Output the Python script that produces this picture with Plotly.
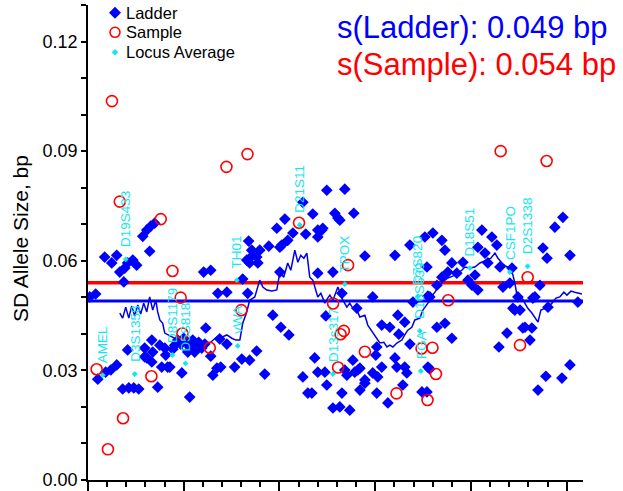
import plotly.graph_objects as go

# ---------------- data ----------------
ladder_x = [0.9, 4.0, 5.1, 9.2, 11.9, 15.0, 8.7, 12.4, 15.0, 16.6, 19.2, 20.7, 23.4, 25.4, 18.7,
            18.1, 21.3, 23.9, 26.5, 20.7, 28.6, 30.7, 32.8, 34.8, 32.2, 30.7, 33.3, 33.8, 37.5,
            36.4, 38.5, 41.6, 40.6, 44.3, 29.6, 40.1, 42.7, 45.3, 46.9, 48.4, 50.0, 51.6, 53.1,
            54.7, 56.3, 57.8, 59.4, 61.0, 55.7, 52.1, 49.0, 53.1, 61.5, 60.4, 64.1, 64.1, 65.2,
            67.3, 69.3, 68.8, 72.5, 67.8, 72.5, 76.6, 80.3, 84.4, 88.1, 92.3, 80.8, 83.4, 83.9,
            85.5, 84.4, 88.1, 82.9, 86.0, 88.7, 94.4, 101.2, 100.2, 96.5, 100.7, 104.9, 98.6,
            102.8, 104.3, 107.0, 89.7, 100.2, 112.2, 114.8, 116.9, 118.4, 120.0, 112.2, 113.7,
            117.4, 120.0, 122.1, 124.7, 134.1, 128.9, 130.5, 122.6, 120.0, 120.0, 127.9, 132.6,
            124.2, 123.7, 124.7, 127.9, 136.7, 132.6, 135.2, 139.3, 140.9, 142.0, 144.6, 138.8,
            131.5, 144.6, 160.3, 148.7, 151.3, 150.8, 156.6, 161.3, 166.5, 164.4, 174.4, 148.7,
            140.4, 153.4, 157.6, 161.8, 165.4, 162.3, 168.1, 150.8, 160.3, 138.3, 134.1, 142.0,
            153.4, 144.6, 165.4, 150.3, 168.1, 175.9, 177.0, 169.7, 177.5, 177.5, 131.5, 180.1,
            184.8, 186.4, 182.2, 190.0, 192.6, 195.8, 200.5, 203.6, 187.9, 202.1, 198.4, 184.8,
            178.5, 182.2, 186.4, 190.0, 178.5, 177.0, 205.7, 210.9, 213.5, 203.6, 207.3, 208.8,
            215.1, 216.7, 220.3, 224.5, 221.9, 225.6, 232.3, 236.0, 240.2, 251.7, 239.7, 237.6,
            243.8, 248.0, 255.8, 227.1, 230.8, 231.8, 218.8, 214.6, 251.7, 247.5, 239.1, 235.0,
            221.4, 233.4, 222.9, 228.2, 33.3, 29.6]
ladder_y = [0.0501, 0.0509, 0.0276, 0.0295, 0.0301, 0.0315, 0.0610, 0.0594, 0.0615, 0.0569, 0.0580,
            0.0594, 0.0602, 0.0588, 0.0542, 0.0249, 0.0252, 0.0252, 0.0249, 0.0356, 0.0667, 0.0684,
            0.0695, 0.0703, 0.0626, 0.0334, 0.0323, 0.0350, 0.0369, 0.0254, 0.0309, 0.0309, 0.0342,
            0.0358, 0.0361, 0.0361, 0.0309, 0.0369, 0.0383, 0.0372, 0.0388, 0.0377, 0.0364, 0.0383,
            0.0369, 0.0377, 0.0361, 0.0372, 0.0350, 0.0350, 0.0293, 0.0227, 0.0416, 0.0569, 0.0574,
            0.0339, 0.0287, 0.0306, 0.0309, 0.0386, 0.0372, 0.0511, 0.0514, 0.0309, 0.0331, 0.0328,
            0.0353, 0.0290, 0.0550, 0.0511, 0.0654, 0.0629, 0.0594, 0.0610, 0.0602, 0.0615, 0.0594,
            0.0640, 0.0643, 0.0569, 0.0451, 0.0418, 0.0397, 0.0689, 0.0714, 0.0656, 0.0676, 0.0629,
            0.0637, 0.0282, 0.0238, 0.0238, 0.0334, 0.0295, 0.0760, 0.0673, 0.0728, 0.0684, 0.0684,
            0.0793, 0.0796, 0.0730, 0.0717, 0.0689, 0.0665, 0.0566, 0.0569, 0.0511, 0.0449, 0.0295,
            0.0260, 0.0197, 0.0191, 0.0238, 0.0287, 0.0295, 0.0301, 0.0246, 0.0265, 0.0730, 0.0711,
            0.0613, 0.0615, 0.0293, 0.0282, 0.0238, 0.0211, 0.0309, 0.0293, 0.0260, 0.0241, 0.0501,
            0.0470, 0.0424, 0.0418, 0.0451, 0.0432, 0.0399, 0.0372, 0.0364, 0.0334, 0.0328, 0.0301,
            0.0306, 0.0309, 0.0274, 0.0309, 0.0342, 0.0643, 0.0665, 0.0583, 0.0487, 0.0503, 0.0309,
            0.0200, 0.0676, 0.0656, 0.0629, 0.0533, 0.0594, 0.0566, 0.0596, 0.0533, 0.0520, 0.0569,
            0.0561, 0.0547, 0.0555, 0.0501, 0.0418, 0.0429, 0.0388, 0.0304, 0.0241, 0.0684, 0.0665,
            0.0643, 0.0637, 0.0621, 0.0594, 0.0583, 0.0528, 0.0539, 0.0501, 0.0470, 0.0465, 0.0498,
            0.0533, 0.0473, 0.0615, 0.0607, 0.0635, 0.0692, 0.0719, 0.0487, 0.0416, 0.0383, 0.0416,
            0.0402, 0.0364, 0.0315, 0.0279, 0.0284, 0.0246, 0.0580, 0.0501, 0.0465, 0.0418, 0.0383,
            0.0337]

sample_x = [4.5, 10.4, 12.5, 16.6, 18.3, 33.1, 38.0, 44.1, 48.4, 49.3, 63.6, 72.3, 80.1, 83.3,
            110.2, 128.0, 130.6, 131.9, 133.6, 135.8, 144.6, 161.1, 174.2, 177.3, 179.9, 181.7,
            188.1, 215.5, 225.6, 229.6, 239.5]
sample_y = [0.0303, 0.0084, 0.1037, 0.0762, 0.0169, 0.0284, 0.0714, 0.0572, 0.0499, 0.0401, 0.0362,
            0.0857, 0.0465, 0.0892, 0.0704, 0.0483, 0.0308, 0.0399, 0.0408, 0.0588, 0.0351, 0.0237,
            0.0360, 0.0219, 0.0362, 0.0290, 0.0492, 0.0900, 0.0369, 0.0555, 0.0873]

loci = ["AMEL", "D3S1358", "D19S433", "D8S1179", "D5S818", "vWA", "TH01", "D21S11", "D13s317",
        "TPOX", "D16S539", "D7S820", "FGA", "D18S51", "CSF1PO", "D2S1338"]
locus_x = [7.7, 24.4, 19.7, 44.1, 50.9, 78.2, 77.7, 110.6, 127.9, 134.1, 173.3, 172.3, 173.8,
           199.4, 220.3, 229.6]
locus_y = [0.0287, 0.0290, 0.0604, 0.0342, 0.0319, 0.0367, 0.0547, 0.0698, 0.0290, 0.0536,
           0.0408, 0.0503, 0.0298, 0.0580, 0.0569, 0.0585]

avg_x = [16.6, 18.1, 19.7, 21.3, 22.8, 24.4, 26.0, 27.5, 29.1, 30.7, 32.2, 33.8, 35.4, 36.4, 37.5,
         39.0, 40.1, 42.7, 45.3, 47.9, 50.5, 53.1, 55.7, 58.4, 61.0, 63.6, 65.2, 67.8, 69.9, 72.5,
         75.1, 77.2, 79.3, 80.8, 82.9, 84.4, 87.1, 89.7, 91.3, 93.4, 96.0, 98.6, 100.2, 102.2,
         104.3, 105.9, 108.0, 109.6, 111.1, 112.7, 114.3, 115.8, 117.4, 119.0, 120.0, 121.6,
         123.7, 125.2, 126.3, 127.9, 129.4, 130.5, 131.5, 133.1, 135.2, 136.7, 138.3, 140.4,
         142.0, 144.6, 146.1, 147.2, 148.7, 150.8, 152.4, 154.5, 156.1, 157.6, 159.2, 161.3,
         163.9, 165.4, 167.0, 169.1, 170.7, 173.3, 174.9, 176.4, 177.5, 179.1, 181.2, 182.7,
         185.3, 187.9, 190.5, 193.1, 195.2, 196.8, 199.4, 202.0, 204.7, 208.3, 210.4, 212.5,
         214.1, 216.2, 218.2, 220.3, 221.9, 222.9, 224.5, 226.6, 228.2, 229.7, 231.8, 233.4,
         235.0, 236.5, 238.6, 240.2, 242.3, 244.4, 246.4, 248.5, 250.1, 252.2, 254.2, 256.3, 257.9]
avg_y = [0.0457, 0.0443, 0.0473, 0.0443, 0.0476, 0.0449, 0.0479, 0.0454, 0.0484, 0.0460, 0.0501,
         0.0465, 0.0492, 0.0460, 0.0438, 0.0429, 0.0402, 0.0394, 0.0388, 0.0369, 0.0350, 0.0361,
         0.0356, 0.0356, 0.0369, 0.0375, 0.0383, 0.0394, 0.0391, 0.0397, 0.0388, 0.0383, 0.0383,
         0.0429, 0.0460, 0.0492, 0.0501, 0.0547, 0.0528, 0.0520, 0.0517, 0.0520, 0.0569, 0.0555,
         0.0594, 0.0574, 0.0629, 0.0596, 0.0615, 0.0607, 0.0621, 0.0555, 0.0547, 0.0520, 0.0501,
         0.0511, 0.0484, 0.0498, 0.0506, 0.0492, 0.0514, 0.0528, 0.0514, 0.0492, 0.0473, 0.0484,
         0.0470, 0.0465, 0.0446, 0.0451, 0.0424, 0.0416, 0.0405, 0.0388, 0.0375, 0.0377, 0.0364,
         0.0369, 0.0364, 0.0375, 0.0383, 0.0397, 0.0410, 0.0418, 0.0438, 0.0443, 0.0465, 0.0476,
         0.0484, 0.0501, 0.0514, 0.0528, 0.0542, 0.0553, 0.0558, 0.0566, 0.0574, 0.0583, 0.0580,
         0.0583, 0.0594, 0.0602, 0.0607, 0.0621, 0.0607, 0.0594, 0.0585, 0.0580, 0.0561, 0.0539,
         0.0492, 0.0498, 0.0484, 0.0470, 0.0457, 0.0443, 0.0432, 0.0465, 0.0470, 0.0473, 0.0484,
         0.0498, 0.0501, 0.0514, 0.0506, 0.0517, 0.0514, 0.0511, 0.0509]

s_ladder = 0.049
s_sample = 0.054
x_range = [0, 258.5]
y_range = [0, 0.13]

BLUE = "#0000FF"
RED = "#FF0000"
CYAN = "#12E6EE"
FONT = "Liberation Sans, Arial, sans-serif"

fig = go.Figure()

# overall SD lines
fig.add_trace(go.Scatter(x=x_range, y=[s_sample, s_sample], mode="lines",
                         line=dict(color=RED, width=3.5), hoverinfo="skip"))
fig.add_trace(go.Scatter(x=x_range, y=[s_ladder, s_ladder], mode="lines",
                         line=dict(color=BLUE, width=3), hoverinfo="skip"))

fig.add_trace(go.Scatter(x=ladder_x, y=ladder_y, mode="markers", name="Ladder",
                         marker=dict(symbol="diamond", size=9, color=BLUE, line=dict(width=0))))
fig.add_trace(go.Scatter(x=avg_x, y=avg_y, mode="lines",
                         line=dict(color="#0000E6", width=1.5), hoverinfo="skip"))
fig.add_trace(go.Scatter(x=sample_x, y=sample_y, mode="markers", name="Sample",
                         marker=dict(symbol="circle-open", size=11, color=RED,
                                     line=dict(width=1.6, color=RED))))
fig.add_trace(go.Scatter(x=locus_x, y=locus_y, mode="markers", name="Locus Average",
                         marker=dict(symbol="diamond", size=4.5, color=CYAN, line=dict(width=0))))

annotations = []
for name, lx, ly in zip(loci, locus_x, locus_y):
    annotations.append(dict(x=lx, y=ly, xref="x", yref="y", text=name, textangle=-90,
                            showarrow=False, xanchor="center", yanchor="bottom", yshift=10,
                            font=dict(family=FONT, size=13.5, color=CYAN)))

# statistics text
annotations.append(dict(x=(335 - 88) / 495, y=(480 - 28) / 475, xref="paper", yref="paper",
                        text=f"s(Ladder): {s_ladder:.3f} bp", showarrow=False,
                        xanchor="left", yanchor="middle",
                        font=dict(family=FONT, size=31, color=BLUE)))
annotations.append(dict(x=(335 - 88) / 495, y=(480 - 65) / 475, xref="paper", yref="paper",
                        text=f"s(Sample): {s_sample:.3f} bp", showarrow=False,
                        xanchor="left", yanchor="middle",
                        font=dict(family=FONT, size=31, color=RED)))

# y-axis title
annotations.append(dict(x=(20 - 88) / 495, y=(480 - 239) / 475, xref="paper", yref="paper",
                        text="SD Allele Size, bp", textangle=-90, showarrow=False,
                        xanchor="center", yanchor="middle",
                        font=dict(family=FONT, size=21, color="black")))

# manual legend
legend_items = [("Ladder", 12.7), ("Sample", 32.3), ("Locus Average", 52.3)]
for label, py in legend_items:
    annotations.append(dict(x=(124 - 88) / 495, y=(480 - py) / 475, xref="paper", yref="paper",
                            text=label, showarrow=False, xanchor="left", yanchor="middle",
                            font=dict(family=FONT, size=16.5, color="black")))

mx = (115 - 88) / 495
shapes = [
    dict(type="path", xref="paper", yref="paper", xsizemode="pixel", ysizemode="pixel",
         xanchor=mx, yanchor=(480 - 12.7) / 475, path="M0,6 L6,0 L0,-6 L-6,0 Z",
         fillcolor=BLUE, line=dict(width=0)),
    dict(type="circle", xref="paper", yref="paper", xsizemode="pixel", ysizemode="pixel",
         xanchor=mx, yanchor=(480 - 32.3) / 475, x0=-5, x1=5, y0=-5, y1=5,
         line=dict(color=RED, width=1.6)),
    dict(type="path", xref="paper", yref="paper", xsizemode="pixel", ysizemode="pixel",
         xanchor=mx, yanchor=(480 - 52.3) / 475, path="M0,3.3 L3.3,0 L0,-3.3 L-3.3,0 Z",
         fillcolor=CYAN, line=dict(width=0)),
]

fig.update_layout(
    width=623, height=491,
    margin=dict(l=88, r=40, t=5, b=11, autoexpand=False),
    paper_bgcolor="white", plot_bgcolor="white",
    showlegend=False,
    annotations=annotations,
    shapes=shapes,
    font=dict(family=FONT, color="black"),
)
fig.update_xaxes(range=x_range, showgrid=False, zeroline=False, showline=True,
                 linecolor="black", linewidth=1.5, ticks="outside", tickwidth=1.5,
                 ticklen=9, tickcolor="black", dtick=50, tick0=0, showticklabels=False,
                 minor=dict(dtick=10, ticks="outside", ticklen=5, tickwidth=1.5,
                            tickcolor="black", showgrid=False))
fig.update_yaxes(range=y_range, showgrid=False, zeroline=False, showline=True,
                 linecolor="black", linewidth=1.5, ticks="outside", tickwidth=1.5,
                 ticklen=5, tickcolor="black", dtick=0.03, tick0=0, tickformat=".2f",
                 tickfont=dict(family=FONT, size=18, color="black"),
                 minor=dict(dtick=0.01, ticks="outside", ticklen=5, tickwidth=1.5,
                            tickcolor="black", showgrid=False))

fig.write_html("out.html", config={"displayModeBar": False},
               post_script="document.body.style.margin='0';document.body.style.padding='0';")
